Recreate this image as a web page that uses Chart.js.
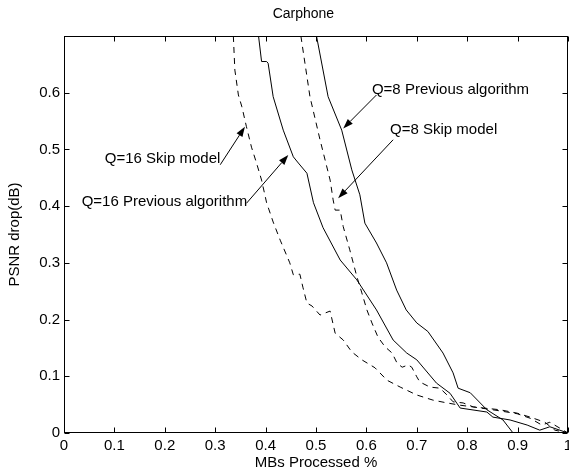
<!DOCTYPE html>
<html lang="en">
<head>
<meta charset="UTF-8">
<title>Carphone</title>
<script src="https://cdn.jsdelivr.net/npm/chart.js"></script>
<style>
  html, body { margin: 0; padding: 0; background: #fff; }
  canvas { display: block; }
</style>
</head>
<body>
<canvas id="psnrChart" width="569" height="473"></canvas>
<script>
// values (x = fraction of MBs processed, y = PSNR drop in dB)
const q8PrevX = [0.501, 0.524, 0.551, 0.571, 0.587, 0.597, 0.620, 0.640, 0.660, 0.679, 0.700, 0.722, 0.752, 0.772, 0.782, 0.806, 0.839, 0.871, 0.891, 1.0];
const q8PrevY = [0.700, 0.593, 0.534, 0.464, 0.420, 0.370, 0.335, 0.300, 0.252, 0.217, 0.194, 0.179, 0.141, 0.106, 0.079, 0.071, 0.041, 0.023, 0.000, 0.0];

const q8SkipX = [0.470, 0.488, 0.508, 0.528, 0.534, 0.538, 0.548, 0.554, 0.567, 0.581, 0.591, 0.601, 0.611, 0.623, 0.637, 0.651, 0.661, 0.671, 0.683, 0.690, 0.700, 0.706, 0.726, 0.746, 0.760, 0.772, 0.792, 0.812, 0.865, 0.899, 0.925, 0.954, 0.974, 1.0];
const q8SkipY = [0.700, 0.593, 0.517, 0.446, 0.411, 0.393, 0.393, 0.364, 0.323, 0.276, 0.247, 0.217, 0.194, 0.169, 0.152, 0.141, 0.123, 0.116, 0.120, 0.116, 0.099, 0.090, 0.081, 0.079, 0.067, 0.055, 0.053, 0.046, 0.041, 0.035, 0.028, 0.019, 0.005, 0.0];

const q16PrevX = [0.386, 0.392, 0.402, 0.405, 0.415, 0.435, 0.455, 0.465, 0.482, 0.495, 0.514, 0.548, 0.581, 0.620, 0.653, 0.680, 0.700, 0.739, 0.766, 0.786, 0.839, 0.851, 0.885, 0.919, 0.944, 0.964, 1.0];
const q16PrevY = [0.700, 0.655, 0.655, 0.652, 0.593, 0.534, 0.487, 0.476, 0.458, 0.406, 0.362, 0.305, 0.270, 0.217, 0.164, 0.141, 0.129, 0.088, 0.070, 0.044, 0.037, 0.028, 0.023, 0.014, 0.005, 0.011, 0.0];

const q16SkipX = [0.336, 0.339, 0.346, 0.353, 0.362, 0.372, 0.382, 0.392, 0.402, 0.415, 0.429, 0.448, 0.455, 0.468, 0.474, 0.482, 0.492, 0.508, 0.528, 0.538, 0.554, 0.571, 0.591, 0.617, 0.641, 0.667, 0.700, 0.732, 0.760, 0.786, 0.812, 0.865, 0.899, 0.925, 0.948, 0.964, 1.0];
const q16SkipY = [0.700, 0.640, 0.596, 0.575, 0.540, 0.504, 0.476, 0.446, 0.406, 0.372, 0.340, 0.300, 0.279, 0.280, 0.257, 0.229, 0.224, 0.208, 0.215, 0.176, 0.164, 0.143, 0.129, 0.115, 0.093, 0.081, 0.067, 0.058, 0.053, 0.049, 0.046, 0.039, 0.034, 0.026, 0.014, 0.019, 0.0];

const xTicks = [0, 0.1, 0.2, 0.3, 0.4, 0.5, 0.6, 0.7, 0.8, 0.9, 1];
const yTicks = [0, 0.1, 0.2, 0.3, 0.4, 0.5, 0.6];

// text labels with arrows: [text, textX, textY, tailX, tailY, tipX, tipY] in data units
const notes = [
  ['Q=8 Previous algorithm', 0.611, 0.605, 0.620, 0.596, 0.554, 0.537],
  ['Q=8 Skip model', 0.647, 0.534, 0.653, 0.517, 0.544, 0.414],
  ['Q=16 Skip model', 0.081, 0.484, 0.310, 0.473, 0.359, 0.540],
  ['Q=16 Previous algorithm', 0.035, 0.408, 0.362, 0.405, 0.445, 0.490]
];

const chartTitle = 'Carphone';
const titleAt = 0.475; // title sits a bit left of the axis centre in the original

const FONT = "'Liberation Sans', Arial, sans-serif";

function pts(xs, ys) {
  return xs.map((x, i) => ({ x: x, y: ys[i] }));
}

function series(label, xs, ys, dashed) {
  return {
    label: label,
    data: pts(xs, ys),
    borderColor: '#000',
    borderWidth: 1,
    borderDash: dashed ? [6, 5] : [],
    pointRadius: 0,
    fill: false,
    tension: 0,
    showLine: true,
    clip: 0
  };
}

// MATLAB style box with inward ticks, the title and the arrow notes
const boxPlugin = {
  id: 'box',
  afterDatasetsDraw(chart) {
    const { ctx, chartArea: a, scales: { x, y } } = chart;
    const L = Math.round(a.left) + 0.5, R = Math.round(a.right) - 0.5;
    const T = Math.round(a.top) + 0.5, B = Math.round(a.bottom) - 0.5;
    ctx.save();
    ctx.strokeStyle = '#000';
    ctx.lineWidth = 1;
    ctx.strokeRect(L, T, R - L, B - T);
    ctx.beginPath();
    xTicks.forEach(v => {
      const px = Math.round(x.getPixelForValue(v)) + 0.5;
      ctx.moveTo(px, B); ctx.lineTo(px, B - 5);
      ctx.moveTo(px, T); ctx.lineTo(px, T + 5);
    });
    yTicks.forEach(v => {
      const py = Math.round(y.getPixelForValue(v)) + 0.5;
      ctx.moveTo(L, py); ctx.lineTo(L + 5, py);
      ctx.moveTo(R, py); ctx.lineTo(R - 5, py);
    });
    ctx.stroke();

    ctx.fillStyle = '#000';
    ctx.textBaseline = 'middle';
    ctx.font = '14px ' + FONT;
    ctx.textAlign = 'center';
    ctx.fillText(chartTitle, x.getPixelForValue(titleAt), 14);

    ctx.font = '15px ' + FONT;
    ctx.textAlign = 'left';
    notes.forEach(n => {
      ctx.fillText(n[0], x.getPixelForValue(n[1]), y.getPixelForValue(n[2]));
      const x1 = x.getPixelForValue(n[3]), y1 = y.getPixelForValue(n[4]);
      const x2 = x.getPixelForValue(n[5]), y2 = y.getPixelForValue(n[6]);
      const ang = Math.atan2(y2 - y1, x2 - x1);
      const len = 10, half = 3.5;
      const bx = x2 - len * Math.cos(ang), by = y2 - len * Math.sin(ang);
      ctx.beginPath();
      ctx.moveTo(x1, y1);
      ctx.lineTo(bx, by);
      ctx.stroke();
      ctx.beginPath();
      ctx.moveTo(x2, y2);
      ctx.lineTo(bx + half * Math.sin(ang), by - half * Math.cos(ang));
      ctx.lineTo(bx - half * Math.sin(ang), by + half * Math.cos(ang));
      ctx.closePath();
      ctx.fill();
    });
    ctx.restore();
  }
};

const ctx = document.getElementById('psnrChart').getContext('2d');

new Chart(ctx, {
  type: 'scatter',
  data: {
    datasets: [
      series('Q=8 Previous algorithm', q8PrevX, q8PrevY, false),
      series('Q=8 Skip model', q8SkipX, q8SkipY, true),
      series('Q=16 Previous algorithm', q16PrevX, q16PrevY, false),
      series('Q=16 Skip model', q16SkipX, q16SkipY, true)
    ]
  },
  options: {
    responsive: false,
    animation: false,
    devicePixelRatio: 1,
    layout: { padding: { left: 0, right: 1, top: 36, bottom: 0 } },
    plugins: {
      legend: { display: false },
      tooltip: { enabled: false },
      title: { display: false }
    },
    scales: {
      x: {
        type: 'linear',
        min: 0,
        max: 1,
        afterBuildTicks: s => { s.ticks = xTicks.map(v => ({ value: v })); },
        afterFit: s => { s.height = 40; s.paddingLeft = 0; s.paddingRight = 0; },
        grid: { display: false, drawTicks: false },
        border: { display: false },
        ticks: {
          color: '#000',
          font: { family: FONT, size: 15 },
          padding: 4,
          maxRotation: 0,
          autoSkip: false,
          callback: v => String(v)
        },
        title: {
          display: true,
          text: 'MBs Processed %',
          color: '#000',
          font: { family: FONT, size: 15 },
          padding: { top: 0, bottom: 1 }
        }
      },
      y: {
        type: 'linear',
        min: 0,
        max: 0.7,
        afterBuildTicks: s => { s.ticks = yTicks.map(v => ({ value: v })); },
        afterFit: s => { s.width = 64; s.paddingTop = 0; s.paddingBottom = 0; },
        grid: { display: false, drawTicks: false },
        border: { display: false },
        ticks: {
          color: '#000',
          font: { family: FONT, size: 15 },
          padding: 4,
          autoSkip: false,
          callback: v => String(v)
        },
        title: {
          display: true,
          text: 'PSNR drop(dB)',
          color: '#000',
          font: { family: FONT, size: 15 },
          padding: { top: 6, bottom: 0 }
        }
      }
    }
  },
  plugins: [boxPlugin]
});
</script>
</body>
</html>
